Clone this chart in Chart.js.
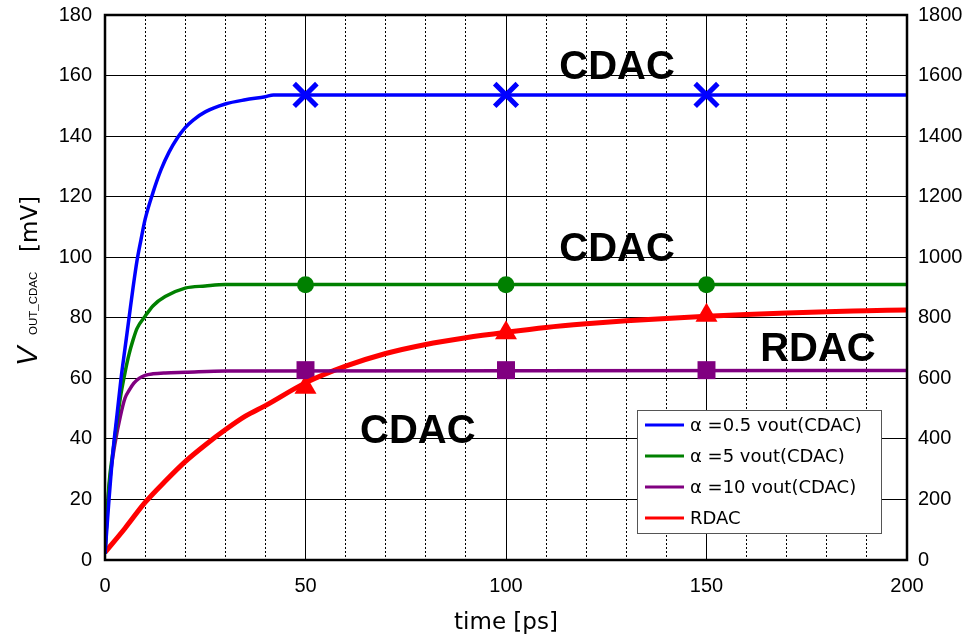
<!DOCTYPE html>
<html>
<head>
<meta charset="utf-8">
<script src="https://cdn.jsdelivr.net/npm/chart.js@4.4.0/dist/chart.umd.min.js"></script>
<style>
  html, body { margin: 0; padding: 0; background: #fff; }
  #wrap { width: 968px; height: 639px; }
</style>
</head>
<body>
<div id="wrap"><canvas id="chart"></canvas></div>
<script>
// time axis [ps] and values [mV]
const blueTime   = [0, 0.5, 1, 2, 3, 4, 5, 6, 7, 8, 9, 10, 12, 14, 16, 18, 20, 22, 25, 30, 35, 40, 42, 200];
const blueVals   = [2, 11, 20, 36, 48, 60, 70, 80, 90, 99, 106, 112.5, 121.5, 129, 134.8, 139.3, 142.8, 145.3, 148, 150.6, 152, 153, 153.6, 153.6];
const greenTime  = [0, 0.5, 1, 2, 3, 4, 5, 6, 7, 8, 10, 12, 15, 20, 25, 30, 200];
const greenVals  = [2, 14, 25, 36, 46, 55, 62, 68, 72.7, 76.5, 80.5, 84, 87, 89.8, 90.5, 91, 91];
const purpleTime = [0, 0.6, 1.3, 2.5, 3.8, 5, 6, 7.2, 8.5, 10, 12, 15, 20, 30, 200];
const purpleVals = [2, 17, 27.5, 38.6, 47.3, 53.5, 56, 58.4, 60, 61, 61.5, 61.8, 62, 62.4, 62.6];
const redTime    = [0, 5, 10, 15, 20, 25, 30, 35, 40, 50, 60, 70, 80, 90, 100, 110, 120, 130, 140, 150, 160, 170, 180, 190, 200];
const redVals    = [2.5, 10.5, 19, 26, 32.5, 38, 43, 47.5, 51, 58.5, 64, 68.2, 71.2, 73.4, 75.2, 76.8, 78, 79, 79.8, 80.5, 81.1, 81.6, 82, 82.3, 82.6];

// marker points
const markerTime   = [50, 100, 150];
const blueMarks    = [153.6, 153.6, 153.6];
const greenMarks   = [90.9, 90.9, 90.9];
const purpleMarks  = [62.7, 62.7, 62.7];
const redMarks     = [57, 75, 80.8];

const seriesLabels = ['α =0.5 vout(CDAC)', 'α =5 vout(CDAC)', 'α =10 vout(CDAC)', 'RDAC'];
const seriesColors = ['#0000ff', '#008000', '#800080', '#ff0000'];

// text written inside the plot, in data coordinates
const noteTexts = ['CDAC', 'CDAC', 'RDAC', 'CDAC'];
const noteTime  = [127.7, 127.7, 177.8, 78];
const noteVal   = [162.5, 102.4, 69.4, 42.3];

const xTicksMax = 200, yLeftMax = 180, yRightMax = 1800;

function pts(xs, ys) {
    return xs.map((x, i) => ({ x: x, y: ys[i] }));
}

function lineSet(label, xs, ys, color, width) {
    return {
        label: label,
        data: pts(xs, ys),
        borderColor: color,
        backgroundColor: color,
        borderWidth: width,
        pointRadius: 0,
        cubicInterpolationMode: 'monotone',
        fill: false
    };
}

function markSet(ys, color, style, radius, bw) {
    return {
        label: '',
        data: pts(markerTime, ys),
        showLine: false,
        pointStyle: style,
        pointRadius: radius,
        pointHoverRadius: radius,
        borderColor: color,
        backgroundColor: color,
        pointBorderWidth: bw
    };
}

const overlay = {
    id: 'overlay',
    afterDatasetsDraw(chart) {
        const ctx = chart.ctx;
        const xs = chart.scales.x, ys = chart.scales.y;
        ctx.save();
        ctx.fillStyle = '#000';
        ctx.font = 'bold 40px "Liberation Sans", Arial, sans-serif';
        ctx.textAlign = 'center';
        ctx.textBaseline = 'middle';
        noteTexts.forEach((t, i) => {
            ctx.fillText(t, xs.getPixelForValue(noteTime[i]), ys.getPixelForValue(noteVal[i]));
        });
        ctx.restore();
    },
    afterDraw(chart) {
        const ctx = chart.ctx;
        const a = chart.chartArea;
        ctx.save();
        // frame
        ctx.strokeStyle = '#000';
        ctx.lineWidth = 2.5;
        ctx.strokeRect(a.left, a.top, a.right - a.left, a.bottom - a.top);

        // legend box
        const lx = a.right - 270, ly = a.bottom - 150, lw = 244, lh = 123;
        ctx.fillStyle = '#fff';
        ctx.fillRect(lx, ly, lw, lh);
        ctx.strokeStyle = '#555';
        ctx.lineWidth = 1;
        ctx.strokeRect(lx + 0.5, ly + 0.5, lw, lh);
        ctx.font = '18px "DejaVu Sans", sans-serif';
        ctx.textBaseline = 'middle';
        ctx.textAlign = 'left';
        seriesLabels.forEach((lab, i) => {
            const yy = ly + 15 + i * 31;
            ctx.strokeStyle = seriesColors[i];
            ctx.lineWidth = 3;
            ctx.beginPath();
            ctx.moveTo(lx + 8, yy);
            ctx.lineTo(lx + 47, yy);
            ctx.stroke();
            ctx.fillStyle = '#000';
            ctx.fillText(lab, lx + 53, yy + 1);
        });

        // x title
        ctx.fillStyle = '#000';
        ctx.font = '23px "DejaVu Sans", sans-serif';
        ctx.textAlign = 'center';
        ctx.fillText('time [ps]', (a.left + a.right) / 2, 623);

        // y title with subscript, rotated
        ctx.translate(37, 366);
        ctx.rotate(-Math.PI / 2);
        ctx.textAlign = 'left';
        ctx.textBaseline = 'alphabetic';
        ctx.font = 'italic 29px "Liberation Sans", Arial, sans-serif';
        ctx.fillText('V', 0, 0);
        ctx.font = '11.5px "Liberation Sans", Arial, sans-serif';
        ctx.fillText('OUT_CDAC', 31, 0);
        ctx.font = '23px "DejaVu Sans", sans-serif';
        ctx.fillText('[mV]', 114, 0);
        ctx.restore();
    }
};

const tickFont = { size: 20, family: '"Liberation Sans", Arial, sans-serif' };

function fitSide(w) {
    return s => {
        s.width = w;
        s.paddingTop = 0;
        s.paddingBottom = 0;
    };
}

new Chart(document.getElementById('chart'), {
    type: 'line',
    data: {
        datasets: [
            lineSet(seriesLabels[0], blueTime, blueVals, seriesColors[0], 3.5),
            lineSet(seriesLabels[1], greenTime, greenVals, seriesColors[1], 3.5),
            lineSet(seriesLabels[2], purpleTime, purpleVals, seriesColors[2], 3.5),
            lineSet(seriesLabels[3], redTime, redVals, seriesColors[3], 5),
            markSet(blueMarks, seriesColors[0], 'crossRot', 16, 5),
            markSet(greenMarks, seriesColors[1], 'circle', 8.5, 0),
            markSet(purpleMarks, seriesColors[2], 'rect', 12.7, 0),
            markSet(redMarks, seriesColors[3], 'triangle', 12.7, 0)
        ]
    },
    options: {
        responsive: true,
        maintainAspectRatio: false,
        animation: false,
        layout: { autoPadding: false, padding: { top: 15 } },
        plugins: {
            legend: { display: false },
            tooltip: { enabled: false }
        },
        scales: {
            x: {
                type: 'linear',
                min: 0,
                max: xTicksMax,
                afterFit: s => { s.height = 79; s.paddingLeft = 0; s.paddingRight = 0; },
                ticks: {
                    stepSize: 10,
                    color: '#000',
                    padding: 14,
                    maxRotation: 0,
                    autoSkip: false,
                    font: tickFont,
                    callback: v => (v % 50 === 0 ? v : '')
                },
                grid: { color: '#000', lineWidth: 1, drawTicks: false },
                border: {
                    color: '#000',
                    width: 2,
                    dash: ctx => (ctx.tick && ctx.tick.value % 50 !== 0 ? [2, 2] : [])
                }
            },
            y: {
                min: 0,
                max: yLeftMax,
                afterFit: fitSide(105),
                ticks: { stepSize: 20, color: '#000', padding: 13, font: tickFont },
                grid: { color: '#000', lineWidth: 1, drawTicks: false },
                border: { color: '#000', width: 2 }
            },
            y2: {
                position: 'right',
                min: 0,
                max: yRightMax,
                afterFit: fitSide(61),
                ticks: {
                    stepSize: 200,
                    color: '#000',
                    padding: 11,
                    font: tickFont,
                    callback: v => String(v)
                },
                grid: { display: false, drawTicks: false },
                border: { color: '#000', width: 2 }
            }
        }
    },
    plugins: [overlay]
});
</script>
</body>
</html>
